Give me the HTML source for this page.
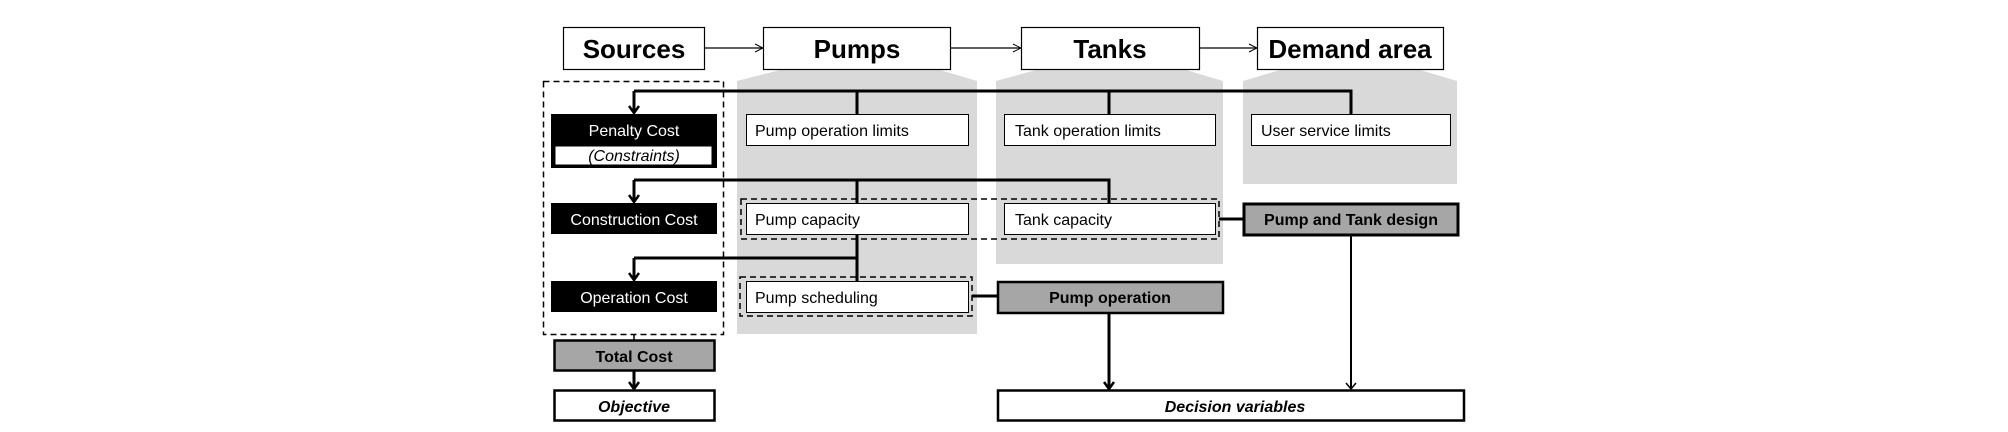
<!DOCTYPE html>
<html><head><meta charset="utf-8"><style>
html,body{margin:0;padding:0;background:#fff;}
svg{display:block;}
text{font-family:"Liberation Sans",Arial,sans-serif;}
</style></head><body>
<svg width="2008" height="432" viewBox="0 0 2008 432" xmlns="http://www.w3.org/2000/svg">
<defs>
<marker id="oa" markerWidth="10" markerHeight="10" refX="9" refY="5" orient="auto" markerUnits="userSpaceOnUse"><path d="M1,1 L9,5 L1,9" fill="none" stroke="#000" stroke-width="1"/></marker>
<marker id="ba" markerWidth="12" markerHeight="12" refX="6" refY="11" orient="0" markerUnits="userSpaceOnUse"><path d="M1,4 L6,11 L11,4" fill="none" stroke="#000" stroke-width="2.5"/></marker>
<marker id="ta" markerWidth="12" markerHeight="12" refX="6" refY="11" orient="0" markerUnits="userSpaceOnUse"><path d="M1,5 L6,11 L11,5" fill="none" stroke="#000" stroke-width="1.5"/></marker>
</defs>
<polygon points="737,81 780,70 940,70 977,81 977,334 737,334" fill="#d9d9d9"/>
<polygon points="996,81 1036,70 1186,70 1223,81 1223,264 996,264" fill="#d9d9d9"/>
<polygon points="1243,81 1280,70 1420,70 1457,81 1457,184 1243,184" fill="#d9d9d9"/>
<g fill="#fff" stroke="#000" stroke-width="1.2">
<rect x="563.5" y="27.5" width="141" height="42"/>
<rect x="763.5" y="27.5" width="187" height="42"/>
<rect x="1021.5" y="27.5" width="178" height="42"/>
<rect x="1257.5" y="27.5" width="186" height="42"/>
</g>
<g font-weight="bold" font-size="26" text-anchor="middle">
<text x="634" y="58">Sources</text>
<text x="857" y="58">Pumps</text>
<text x="1110" y="58">Tanks</text>
<text x="1350" y="58">Demand area</text>
</g>
<g stroke="#000" stroke-width="1.2" marker-end="url(#oa)">
<line x1="705" y1="48" x2="763" y2="48"/>
<line x1="951" y1="48" x2="1021" y2="48"/>
<line x1="1200" y1="48" x2="1257" y2="48"/>
</g>
<rect x="543.5" y="81.5" width="180" height="253" fill="none" stroke="#000" stroke-width="1.5" stroke-dasharray="6,4"/>
<g stroke="#000" stroke-width="3" fill="none">
<polyline points="1351,114 1351,91 634,91"/>
<line x1="857" y1="91" x2="857" y2="114"/>
<line x1="1109" y1="91" x2="1109" y2="114"/>
<line x1="634" y1="91" x2="634" y2="113" marker-end="url(#ba)"/>
<polyline points="1109,203 1109,180 634,180"/>
<line x1="857" y1="180" x2="857" y2="281"/>
<line x1="634" y1="180" x2="634" y2="202" marker-end="url(#ba)"/>
<line x1="634" y1="258" x2="857" y2="258"/>
<line x1="634" y1="258" x2="634" y2="280" marker-end="url(#ba)"/>
<line x1="634" y1="370" x2="634" y2="389" marker-end="url(#ba)"/>
<line x1="1109" y1="313" x2="1109" y2="389" marker-end="url(#ba)"/>
<line x1="972" y1="296" x2="997" y2="296"/>
<line x1="1219" y1="219" x2="1243" y2="219"/>
</g>
<line x1="634" y1="334" x2="634" y2="340" stroke="#000" stroke-width="1.5"/>
<line x1="1351" y1="235" x2="1351" y2="389" stroke="#000" stroke-width="2" marker-end="url(#ta)"/>
<rect x="551" y="114" width="166" height="54" fill="#000"/>
<rect x="555" y="146" width="157" height="19" fill="#fff" stroke="#000" stroke-width="1"/>
<text x="634" y="136" fill="#fff" font-size="16" text-anchor="middle">Penalty Cost</text>
<text x="634" y="161" font-size="16" font-style="italic" text-anchor="middle">(Constraints)</text>
<rect x="551" y="203" width="166" height="31" fill="#000"/>
<text x="634" y="225" fill="#fff" font-size="16" text-anchor="middle">Construction Cost</text>
<rect x="551" y="281" width="166" height="31" fill="#000"/>
<text x="634" y="303" fill="#fff" font-size="16" text-anchor="middle">Operation Cost</text>
<rect x="554.5" y="340.5" width="160" height="30" fill="#a6a6a6" stroke="#000" stroke-width="2.5"/>
<text x="634" y="362" font-size="16" font-weight="bold" text-anchor="middle">Total Cost</text>
<rect x="554.5" y="390.5" width="160" height="30" fill="#fff" stroke="#000" stroke-width="2.5"/>
<text x="634" y="412" font-size="16" font-weight="bold" font-style="italic" text-anchor="middle">Objective</text>
<g fill="none" stroke="#000" stroke-width="1.5" stroke-dasharray="6,4">
<rect x="741" y="199" width="478" height="40"/>
<rect x="740" y="277" width="232" height="39"/>
</g>
<g fill="#fff" stroke="#000" stroke-width="1">
<rect x="746.5" y="114.5" width="222" height="31"/>
<rect x="1004.5" y="114.5" width="211" height="31"/>
<rect x="1251.5" y="114.5" width="199" height="31"/>
<rect x="746.5" y="203.5" width="222" height="31"/>
<rect x="1004.5" y="203.5" width="211" height="31"/>
<rect x="746.5" y="281.5" width="222" height="31"/>
</g>
<g font-size="16">
<text x="755" y="136">Pump operation limits</text>
<text x="1015" y="136">Tank operation limits</text>
<text x="1261" y="136">User service limits</text>
<text x="755" y="225">Pump capacity</text>
<text x="1015" y="225">Tank capacity</text>
<text x="755" y="303">Pump scheduling</text>
</g>
<rect x="998" y="282" width="225" height="31" fill="#a6a6a6" stroke="#000" stroke-width="2.5"/>
<text x="1110" y="303" font-size="16" font-weight="bold" text-anchor="middle">Pump operation</text>
<rect x="1244" y="204" width="214" height="31" fill="#a6a6a6" stroke="#000" stroke-width="3"/>
<text x="1351" y="225" font-size="16" font-weight="bold" text-anchor="middle">Pump and Tank design</text>
<rect x="998" y="390.5" width="466" height="30" fill="#fff" stroke="#000" stroke-width="2.5"/>
<text x="1235" y="412" font-size="16" font-weight="bold" font-style="italic" text-anchor="middle">Decision variables</text>
</svg>
</body></html>
